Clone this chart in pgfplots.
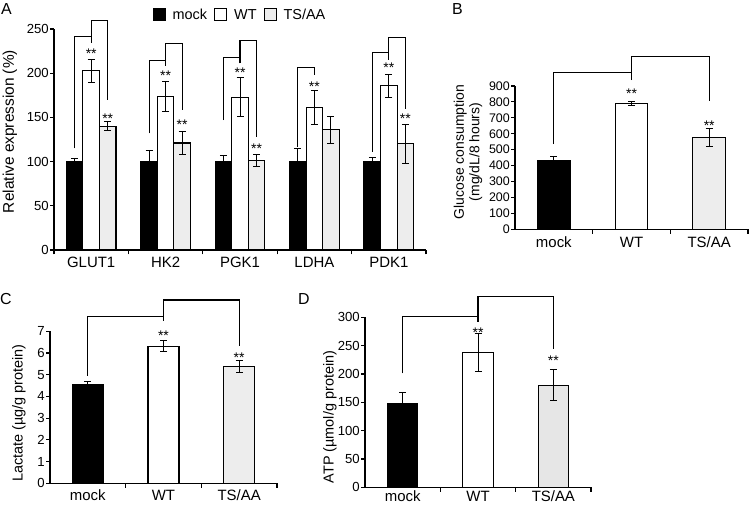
\documentclass[border=0pt]{standalone}
\usepackage{fontspec}
\setmainfont{Liberation Sans}
\usepackage{pgfplots}
\pgfplotsset{compat=1.18}
\definecolor{tsg}{RGB}{237,237,237}
\pgfplotsset{
  panel/.style={
    scale only axis, anchor=south west,
    axis x line*=bottom, axis y line*=left,
    axis line style={line width=1.1bp,-},
    tick align=outside,
    major tick length=4bp, minor tick length=4.5bp,
    tick style={line width=1.1bp,black},
    major x tick style={draw=none},
    clip=false, ymin=0, xmin=-0.5,
    /pgf/number format/assume math mode=true,
    yticklabel style={font=\fontsize{13.2}{13.2}\selectfont, inner sep=1bp},
    xticklabel style={font=\fontsize{15}{15}\selectfont},
  },
  bars/.style={ybar, draw=black, line width=1.1bp, bar shift=0,
    error bars/y dir=both, error bars/y explicit,
    error bars/error mark options={rotate=90, mark size=3.5bp, line width=1bp, black},
    error bars/error bar style={line width=1bp, black}},
}
\tikzset{br/.style={line width=1.1bp}, st/.style={font=\fontsize{14}{14}\selectfont, yshift=-3.5bp}}
\begin{document}
\begin{tikzpicture}[x=1bp,y=1bp]
\path[use as bounding box] (0,0) rectangle (750,507);
% ---------------- A
\begin{axis}[panel, at={(54bp,257bp)}, width=372bp, height=221bp,
  xmax=4.5, ymax=250, ytick={0,50,...,250},
  xtick={0,...,4}, xticklabels={GLUT1,HK2,PGK1,LDHA,PDK1},
  minor xtick={-0.5,0.5,1.5,2.5,3.5,4.5},
  legend image code/.code={\draw[#1,line width=1bp] (0bp,-6bp) rectangle (12bp,6bp);},
  legend style={draw=none, legend columns=3, at={(0.5,1)}, anchor=center, yshift=14bp,
    font=\fontsize{14.5}{15}\selectfont, inner sep=0pt,
    /tikz/every odd column/.append style={column sep=5bp},
    /tikz/every even column/.append style={column sep=5bp}},
]
\addlegendimage{fill=black,draw=black}
\addlegendimage{fill=white,draw=black}
\addlegendimage{fill=tsg,draw=black}
\legend{mock,WT,TS/AA}
% mock (left bar of each group)
\addplot[bars, fill=black, bar width=0.222] coordinates {
 (-0.222,100) +- (0,4) (0.778,100) +- (0,13) (1.778,100) +- (0,7) (2.778,100) +- (0,15) (3.778,100) +- (0,5)};
% WT (centre bar)
\addplot[bars, fill=white, bar width=0.222] coordinates {
 (0,203) +- (0,13) (1,174) +- (0,17) (2,173) +- (0,22) (3,161) +- (0,19) (4,186) +- (0,13)};
% TS/AA (right bar)
\addplot[bars, fill=tsg, bar width=0.222] coordinates {
 (0.222,140) +- (0,5) (1.222,121) +- (0,13) (2.222,101) +- (0,7) (3.222,136) +- (0,15) (4.222,120) +- (0,22)};
\draw[br] (axis cs:-0.222,115)--(axis cs:-0.222,241.3)--(axis cs:0,241.3);
\draw[br] (axis cs:0,234.5)--(axis cs:0,260)--(axis cs:0.222,260)--(axis cs:0.222,170);
\draw[br] (axis cs:0.778,132)--(axis cs:0.778,214)--(axis cs:1,214);
\draw[br] (axis cs:1,208.5)--(axis cs:1,233.8)--(axis cs:1.222,233.8)--(axis cs:1.222,158);
\draw[br] (axis cs:1.778,147)--(axis cs:1.778,218)--(axis cs:2,218);
\draw[br] (axis cs:2,211)--(axis cs:2,236.8)--(axis cs:2.222,236.8)--(axis cs:2.222,128);
\draw[br] (axis cs:2.778,117)--(axis cs:2.778,206.6)--(axis cs:3,206.6)--(axis cs:3,198);
\draw[br] (axis cs:3.778,111)--(axis cs:3.778,223)--(axis cs:4,223);
\draw[br] (axis cs:4,215)--(axis cs:4,240.6)--(axis cs:4.222,240.6)--(axis cs:4.222,160);
\node[st] at (axis cs:0,226) {**};
\node[st] at (axis cs:0.222,153) {**};
\node[st] at (axis cs:1,200.6) {**};
\node[st] at (axis cs:1.222,146) {**};
\node[st] at (axis cs:2,204.7) {**};
\node[st] at (axis cs:2.222,118.8) {**};
\node[st] at (axis cs:3,188.6) {**};
\node[st] at (axis cs:4,210) {**};
\node[st] at (axis cs:4.222,152) {**};
\end{axis}
% ---------------- B
\begin{axis}[panel, at={(515bp,277.7bp)}, width=233bp, height=143.3bp,
  xmax=2.5, ymax=900, ytick={0,100,...,900},
  yticklabel style={font=\fontsize{12.5}{12.5}\selectfont},
  xtick={0,1,2}, xticklabels={mock,WT,TS/AA}, minor xtick={0.5,1.5,2.5}]
\addplot[bars, fill=black, bar width=0.42] coordinates {(0,434) +- (0,25)};
\addplot[bars, fill=white, bar width=0.42] coordinates {(1,789) +- (0,12)};
\addplot[bars, fill=tsg, bar width=0.42] coordinates {(2,576) +- (0,58)};
\draw[br] (axis cs:0,535)--(axis cs:0,983)--(axis cs:1,983);
\draw[br] (axis cs:1,937)--(axis cs:1,1083)--(axis cs:2,1083)--(axis cs:2,807);
\node[st] at (axis cs:1,875) {**};
\node[st] at (axis cs:2,675) {**};
\end{axis}
% ---------------- C
\begin{axis}[panel, at={(50bp,23.7bp)}, width=227bp, height=152bp,
  xmax=2.5, ymax=7, ytick={0,1,...,7},
  xticklabel style={yshift=1bp},
  xtick={0,1,2}, xticklabels={mock,WT,TS/AA}, minor xtick={0.5,1.5,2.5}]
\addplot[bars, fill=black, bar width=0.41] coordinates {(0,4.54) +- (0,0.17)};
\addplot[bars, fill=white, bar width=0.41] coordinates {(1,6.32) +- (0,0.24)};
\addplot[bars, fill=tsg, bar width=0.41] coordinates {(2,5.37) +- (0,0.27)};
\draw[br] (axis cs:0,4.96)--(axis cs:0,7.68)--(axis cs:1,7.68);
\draw[br] (axis cs:1,7.49)--(axis cs:1,8.44)--(axis cs:2,8.44)--(axis cs:2,6.34);
\node[st] at (axis cs:1,6.95) {**};
\node[st] at (axis cs:2,5.93) {**};
\end{axis}
% ---------------- D
\begin{axis}[panel, at={(365bp,19.7bp)}, width=226bp, height=170bp,
  xmax=2.5, ymax=300, ytick={0,50,...,300},
  xticklabel style={yshift=4bp},
  xtick={0,1,2}, xticklabels={mock,WT,TS/AA}, minor xtick={0.5,1.5,2.5}]
\addplot[bars, fill=black, bar width=0.4] coordinates {(0,147) +- (0,21)};
\addplot[bars, fill=white, bar width=0.4] coordinates {(1,238) +- (0,33)};
\addplot[bars, fill={rgb,255:red,230;green,230;blue,230}, bar width=0.4] coordinates {(2,180) +- (0,27)};
\draw[br] (axis cs:0,201)--(axis cs:0,301)--(axis cs:1,301);
\draw[br] (axis cs:1,292)--(axis cs:1,336)--(axis cs:2,336)--(axis cs:2,243.5);
\node[st] at (axis cs:1,279) {**};
\node[st] at (axis cs:2,229) {**};
\end{axis}
% ---------------- labels
\node[rotate=90, font=\fontsize{15.5}{15.5}\selectfont] at (10,375.5) {Relative expression (\%)};
\node[rotate=90, align=center, font=\fontsize{14}{15.5}\selectfont] at (468,355) {Glucose consumption\\(mg/dL/8 hours)};
\node[rotate=90, font=\fontsize{14.5}{14.5}\selectfont] at (19,94) {Lactate (µg/g protein)};
\node[rotate=90, font=\fontsize{14.5}{14.5}\selectfont] at (330,90) {ATP (µmol/g protein)};
\node[anchor=north west, inner sep=0pt, font=\fontsize{16}{16}\selectfont] at (1,504) {A};
\node[anchor=north west, inner sep=0pt, font=\fontsize{16}{16}\selectfont] at (452,504) {B};
\node[anchor=north west, inner sep=0pt, font=\fontsize{16}{16}\selectfont] at (0,214) {C};
\node[anchor=north west, inner sep=0pt, font=\fontsize{16}{16}\selectfont] at (298,214) {D};
\end{tikzpicture}
\end{document}
